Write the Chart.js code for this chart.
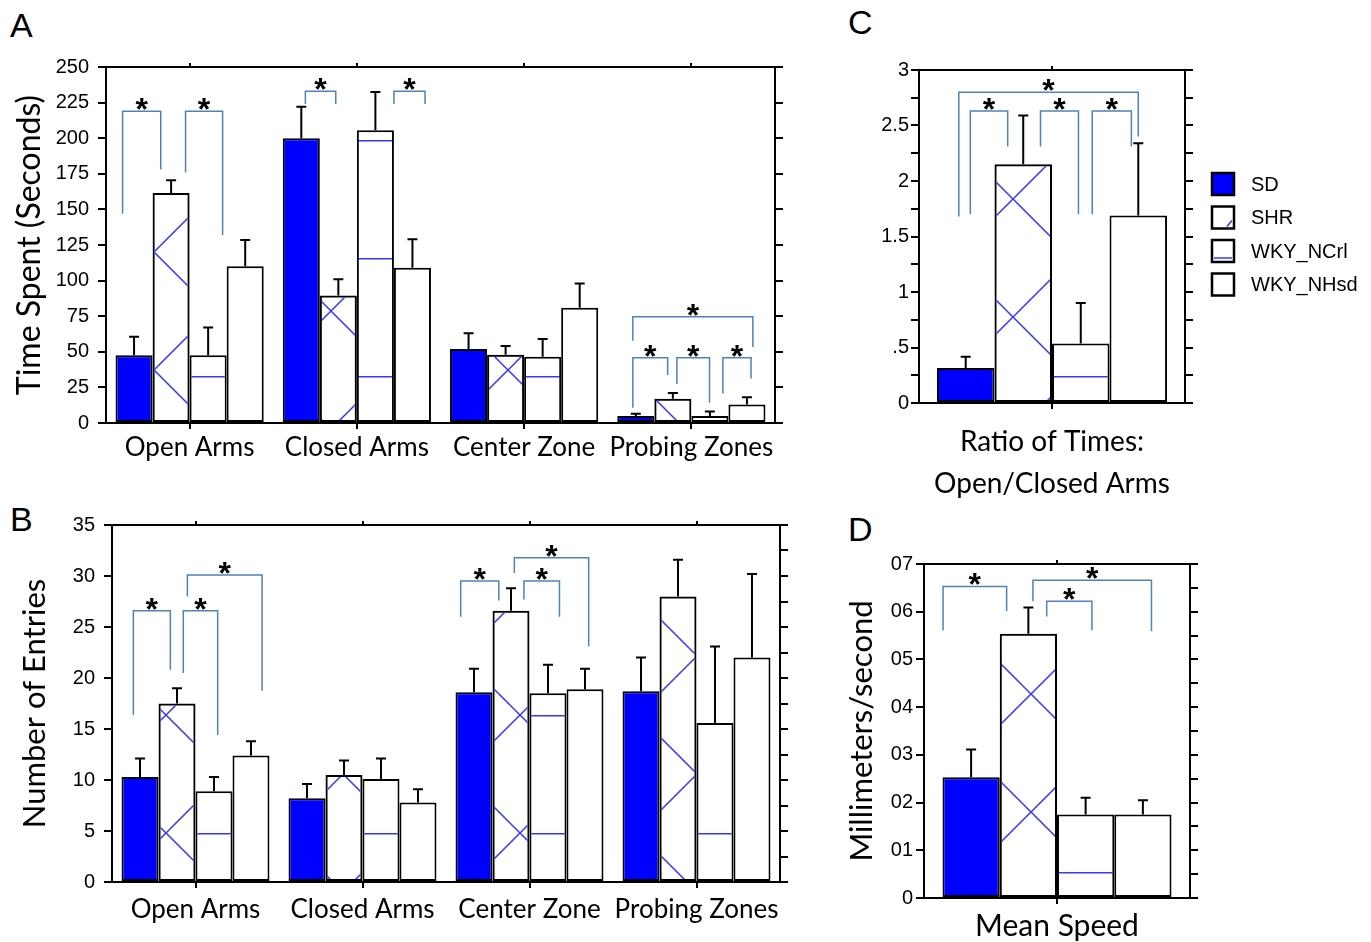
<!DOCTYPE html>
<html>
<head>
<meta charset="utf-8">
<script src="https://cdn.jsdelivr.net/npm/chart.js@4.4.1/dist/chart.umd.min.js"></script>
<style>
  body { margin: 0; background: #fff; width: 1371px; height: 942px; position: relative; overflow: hidden; }
  canvas { position: absolute; }
  .letter { position: absolute; font: 34px "Liberation Sans", Arial, sans-serif; color: #000; line-height: 34px; }
</style>
</head>
<body>
<div class="letter" style="left:10px;top:8px">A</div>
<div class="letter" style="left:10px;top:502px">B</div>
<div class="letter" style="left:848px;top:5px">C</div>
<div class="letter" style="left:848px;top:512px">D</div>

<canvas id="chartA" width="800" height="475" style="left:0;top:0"></canvas>
<canvas id="chartB" width="800" height="467" style="left:0;top:475px"></canvas>
<canvas id="chartC" width="531" height="520" style="left:840px;top:0"></canvas>
<canvas id="chartD" width="360" height="422" style="left:840px;top:520px"></canvas>

<script>
// groups and zones
const groups = ['SD', 'SHR', 'WKY_NCrl', 'WKY_NHsd'];
const zones = ['Open Arms', 'Closed Arms', 'Center Zone', 'Probing Zones'];

// A - time spent (seconds): means and error bars
const timeSD = [47.5, 200, 52, 5];
const timeSHR = [161.5, 89.5, 48, 17];
const timeNCrl = [47.5, 205.5, 46.5, 5];
const timeNHsd = [110, 109, 81, 13];
const timeSDErr = [13, 22, 11, 1.5];
const timeSHRErr = [9, 11.5, 6, 4];
const timeNCrlErr = [19.5, 27, 12.5, 3];
const timeNHsdErr = [18.5, 20, 17, 5];

// B - number of entries
const entSD = [10.3, 8.2, 18.6, 18.7];
const entSHR = [17.5, 10.5, 26.6, 28.0];
const entNCrl = [8.9, 10.1, 18.5, 15.6];
const entNHsd = [12.4, 7.8, 18.9, 22.0];
const entSDErr = [1.8, 1.4, 2.3, 3.3];
const entSHRErr = [1.5, 1.4, 2.2, 3.6];
const entNCrlErr = [1.4, 2.0, 2.8, 7.5];
const entNHsdErr = [1.4, 1.3, 2.0, 8.2];

// C - ratio open/closed, D - mean speed (one value per group)
const ratio = [0.316, 2.15, 0.535, 1.69];
const ratioErr = [0.10, 0.44, 0.365, 0.65];
const speed = [0.253, 0.554, 0.175, 0.175];
const speedErr = [0.058, 0.055, 0.035, 0.030];

// tick labels
const ticksA = ['0', '25', '50', '75', '100', '125', '150', '175', '200', '225', '250'];
const ticksB = ['0', '5', '10', '15', '20', '25', '30', '35'];
const ticksC = ['0', '.5', '1', '1.5', '2', '2.5', '3'];
const ticksD = ['0', '01', '02', '03', '04', '05', '06', '07'];

// significance brackets: [category, left slot, right slot, top, left foot, right foot]
const sigA = [
  [0, 0.19, 1.22, 219, 147, 178],
  [0, 1.89, 2.89, 219, 176, 132],
  [1, 0.61, 1.43, 233, 224, 224],
  [1, 3.00, 3.84, 233, 224, 224],
  [3, 0.42, 3.66, 74.6, 57.8, 53.4],
  [3, 0.42, 1.36, 45.9, 10.7, 33.7],
  [3, 1.61, 2.49, 45.9, 27.4, 14.3],
  [3, 2.85, 3.61, 45.9, 20.8, 31.3]
];
const sigB = [
  [0, 0.32, 1.32, 26.6, 16.4, 20.8],
  [0, 1.67, 2.60, 26.6, 20.5, 14.4],
  [0, 1.78, 3.80, 30.1, 28.0, 18.75],
  [2, 0.14, 1.17, 29.5, 26.0, 27.6],
  [2, 1.85, 2.81, 29.5, 27.7, 26.0],
  [2, 1.59, 3.60, 31.8, 30.3, 23.1]
];
const sigC = [
  [0, 0.38, 3.50, 2.80, 1.68, 2.40],
  [0, 0.58, 1.23, 2.63, 1.70, 2.31],
  [0, 1.80, 2.46, 2.63, 2.31, 1.70],
  [0, 2.70, 3.38, 2.63, 1.70, 2.31]
];
const sigD = [
  [0, 0.01, 1.12, 0.653, 0.561, 0.601],
  [0, 1.58, 3.65, 0.666, 0.622, 0.559],
  [0, 1.82, 2.61, 0.622, 0.590, 0.561]
];

const BLUE = '#0000ff';
const HATCH = '#3535ff';
const BRACKET = '#4f81bd';
const NUMFONT = '"Liberation Sans", Arial, sans-serif';
const TXTFONT = 'Lato, "Open Sans", sans-serif';
const TILE = 118;

// big X hatch used for SHR
function crossPattern(ox, oy) {
  const t = document.createElement('canvas');
  t.width = t.height = TILE;
  const c = t.getContext('2d');
  c.strokeStyle = HATCH;
  c.lineWidth = 1.5;
  c.beginPath();
  c.moveTo(-4, -4); c.lineTo(TILE + 4, TILE + 4);
  c.moveTo(TILE + 4, -4); c.lineTo(-4, TILE + 4);
  c.stroke();
  const p = c.createPattern(t, 'repeat');
  p.setTransform(new DOMMatrix([1, 0, 0, 1, ox, oy]));
  return p;
}

// horizontal lines used for WKY_NCrl
function linePattern(oy) {
  const t = document.createElement('canvas');
  t.width = t.height = TILE;
  const c = t.getContext('2d');
  c.fillStyle = '#fff';
  c.fillRect(0, 0, TILE, TILE);
  c.fillStyle = HATCH;
  c.fillRect(0, oy, TILE, 1.5);
  return c.createPattern(t, 'repeat');
}

const errorBars = {
  id: 'errorBars',
  afterDatasetsDraw(chart) {
    const ctx = chart.ctx, y = chart.scales.y;
    ctx.save();
    ctx.strokeStyle = '#000';
    ctx.lineWidth = 2;
    chart.data.datasets.forEach((ds, i) => {
      chart.getDatasetMeta(i).data.forEach((bar, j) => {
        const top = y.getPixelForValue(ds.data[j] + ds.err[j]);
        ctx.beginPath();
        ctx.moveTo(bar.x, bar.y);
        ctx.lineTo(bar.x, top);
        ctx.moveTo(bar.x - 5, top);
        ctx.lineTo(bar.x + 5, top);
        ctx.stroke();
      });
    });
    ctx.restore();
  }
};

function sigPlugin(list) {
  return {
    id: 'sig',
    afterDraw(chart) {
      const ctx = chart.ctx, y = chart.scales.y;
      ctx.save();
      ctx.strokeStyle = BRACKET;
      ctx.lineWidth = 1.5;
      ctx.fillStyle = '#000';
      ctx.font = 'bold 32px "Liberation Sans", Arial, sans-serif';
      ctx.textAlign = 'center';
      ctx.textBaseline = 'alphabetic';
      list.forEach(([cat, pl, pr, top, fl, fr]) => {
        const b = chart.getDatasetMeta(0).data[cat];
        const left = b.x - b.width / 2, w = b.width;
        const xl = left + pl * w, xr = left + pr * w;
        const yt = y.getPixelForValue(top);
        ctx.beginPath();
        ctx.moveTo(xl, y.getPixelForValue(fl));
        ctx.lineTo(xl, yt);
        ctx.lineTo(xr, yt);
        ctx.lineTo(xr, y.getPixelForValue(fr));
        ctx.stroke();
        ctx.fillText('*', (xl + xr) / 2, yt + 9);
      });
      ctx.restore();
    }
  };
}

const legendPlugin = {
  id: 'sideLegend',
  afterDraw(chart) {
    const ctx = chart.ctx;
    const x0 = 372, y0 = 173, step = 33.5, s = 22;
    ctx.save();
    ctx.font = '20px ' + NUMFONT;
    ctx.textBaseline = 'middle';
    chart.data.datasets.forEach((ds, i) => {
      const y = y0 + i * step;
      ctx.fillStyle = i === 0 ? BLUE : '#fff';
      ctx.fillRect(x0, y, s, s);
      ctx.strokeStyle = HATCH;
      ctx.lineWidth = 1.5;
      if (i === 1) {
        ctx.beginPath(); ctx.moveTo(x0 + 15, y + s - 2); ctx.lineTo(x0 + s - 2, y + 14); ctx.stroke();
      }
      if (i === 2) {
        ctx.beginPath(); ctx.moveTo(x0 + 2, y + s - 4); ctx.lineTo(x0 + s - 2, y + s - 4); ctx.stroke();
      }
      ctx.strokeStyle = '#000';
      ctx.lineWidth = 2.5;
      ctx.strokeRect(x0, y, s, s);
      ctx.fillStyle = '#000';
      ctx.fillText(ds.label, x0 + 39, y + s / 2 + 1);
    });
    ctx.restore();
  }
};

function makeChart(id, o) {
  const axisLine = { color: '#000', width: 2 };
  const gridTicks = (len) => ({ drawOnChartArea: false, drawTicks: true, tickLength: len, color: '#000', lineWidth: 2, offset: false });
  return new Chart(document.getElementById(id), {
    type: 'bar',
    data: { labels: o.labels, datasets: o.datasets },
    options: {
      responsive: false,
      animation: false,
      layout: { padding: 0 },
      datasets: { bar: { barPercentage: 1, categoryPercentage: o.catPct, borderColor: '#000', borderWidth: 2, borderSkipped: false } },
      plugins: { legend: { display: false }, tooltip: { enabled: false } },
      scales: {
        x: {
          type: 'category', position: 'bottom', offset: true,
          grid: gridTicks(6), border: axisLine,
          ticks: { color: '#000', maxRotation: 0, autoSkip: false, padding: o.catPad, font: o.catFont },
          afterFit: s => { s.height = o.box.bottom; }
        },
        x2: {
          type: 'category', position: 'top', offset: true,
          grid: gridTicks(4), border: axisLine,
          ticks: { display: false },
          afterFit: s => { s.height = o.box.top; }
        },
        y: {
          type: 'linear', position: 'left', min: o.min, max: o.max,
          grid: gridTicks(8), border: axisLine,
          ticks: { stepSize: o.step, color: '#000', padding: o.tickPad, font: { family: NUMFONT, size: 20 }, callback: o.fmt },
          title: o.yTitle ? { display: true, text: o.yTitle, color: '#000', font: { family: TXTFONT, size: o.titleSize }, padding: { top: o.titlePad, bottom: 0 } } : { display: false },
          afterFit: s => { s.width = o.box.left; }
        },
        y2: {
          type: 'linear', position: 'right', min: o.min, max: o.max,
          grid: gridTicks(8), border: axisLine,
          ticks: { stepSize: o.step, display: false },
          afterFit: s => { s.width = o.box.right; }
        }
      }
    },
    plugins: [errorBars, sigPlugin(o.sig)].concat(o.plugins || [])
  });
}

function sets(values, errs, cross, lines) {
  const fills = [BLUE, cross, lines, '#fff'];
  return groups.map((g, i) => ({ label: g, data: values[i], err: errs[i], backgroundColor: fills[i] }));
}

// A
makeChart('chartA', {
  labels: zones,
  datasets: sets([timeSD, timeSHR, timeNCrl, timeNHsd], [timeSDErr, timeSHRErr, timeNCrlErr, timeNHsdErr], crossPattern(36, 16), linePattern(22)),
  min: 0, max: 250, step: 25,
  fmt: v => ticksA[Math.round(v / 25)],
  box: { left: 106, right: 25, top: 67, bottom: 52 },
  catPct: 0.886, catPad: 3, tickPad: 9,
  catFont: { family: TXTFONT, size: 26 },
  yTitle: 'Time Spent (Seconds)', titleSize: 32, titlePad: 10,
  sig: sigA
});

// B
makeChart('chartB', {
  labels: zones,
  datasets: sets([entSD, entSHR, entNCrl, entNHsd], [entSDErr, entSHRErr, entNCrlErr, entNHsdErr], crossPattern(48, 4), linePattern(4)),
  min: 0, max: 35, step: 2.5,
  fmt: v => (v % 5 === 0 ? ticksB[v / 5] : ''),
  box: { left: 112, right: 20, top: 50, bottom: 60 },
  catPct: 0.886, catPad: 6, tickPad: 9,
  catFont: { family: TXTFONT, size: 26 },
  yTitle: 'Number of Entries', titleSize: 31, titlePad: 16,
  sig: sigB
});

// C
makeChart('chartC', {
  labels: [['Ratio of Times:', 'Open/Closed Arms']],
  datasets: sets(ratio.map(v => [v]), ratioErr.map(v => [v]), crossPattern(55, 81), linePattern(22)),
  min: 0, max: 3, step: 0.25,
  fmt: v => (Math.abs(v * 2 - Math.round(v * 2)) < 1e-6 ? ticksC[Math.round(v * 2)] : ''),
  box: { left: 79, right: 186, top: 70, bottom: 117 },
  catPct: 0.865, catPad: 12, tickPad: 2,
  catFont: { family: TXTFONT, size: 28, lineHeight: 1.5 },
  sig: sigC,
  plugins: [legendPlugin]
});

// D
makeChart('chartD', {
  labels: ['Mean Speed'],
  datasets: sets(speed.map(v => [v]), speedErr.map(v => [v]), crossPattern(73, 56), linePattern(116)),
  min: 0, max: 0.7, step: 0.05,
  fmt: v => {
    const k = Math.round(v * 20);
    return k % 2 === 0 ? ticksD[k / 2] : '';
  },
  box: { left: 84, right: 10, top: 44, bottom: 44 },
  catPct: 0.861, catPad: 4, tickPad: 3,
  catFont: { family: TXTFONT, size: 30 },
  yTitle: 'Millimeters/second', titleSize: 31, titlePad: 3,
  sig: sigD
});
</script>
</body>
</html>
